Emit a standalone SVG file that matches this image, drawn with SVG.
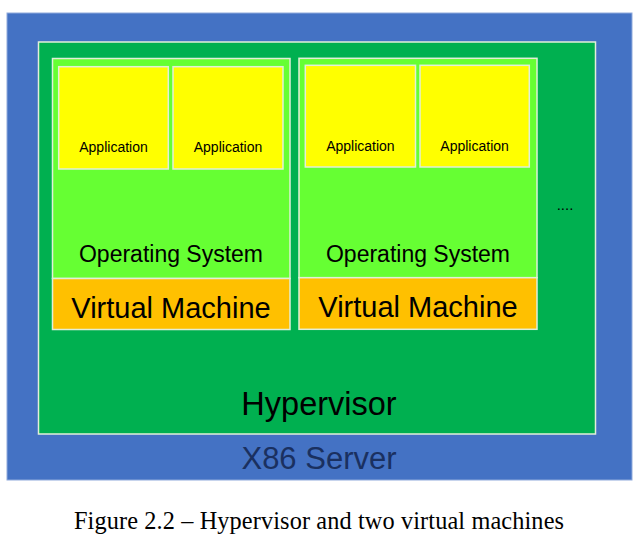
<svg xmlns="http://www.w3.org/2000/svg" width="638" height="536" viewBox="0 0 638 536">
<style>
.lb{stroke:#E2EFD9;stroke-width:1.5}
.app{fill:#FFFF00}
.os{fill:#66FF33}
.vm{fill:#FFC000}
.t{font-family:"Liberation Sans",Arial,sans-serif;fill:#000;text-anchor:middle}
</style>
<rect width="638" height="536" fill="#FFFFFF"/>
<g id="server">
<rect x="7" y="13" width="625" height="467" fill="#4472C4" stroke="#8FAADC" stroke-width="1"/>
<text class="t" x="319" y="469" font-size="31" style="fill:#1A3060">X86 Server</text>
</g>
<g id="hypervisor">
<rect class="lb" x="38.5" y="42" width="557" height="392" fill="#00B050"/>
<text class="t" x="319" y="415" font-size="32.5">Hypervisor</text>
</g>
<g id="vm1">
<rect class="os lb" x="52.5" y="58.5" width="237.5" height="220"/>
<rect class="vm lb" x="52.5" y="278.5" width="237.5" height="51"/>
<text class="t" x="171" y="262" font-size="23">Operating System</text>
<text class="t" x="171" y="317.5" font-size="29">Virtual Machine</text>
</g>
<g id="vm1-app1">
<rect class="app lb" x="58.7" y="66.7" width="109.6" height="102.3"/>
<text class="t" x="113.5" y="151.7" font-size="14">Application</text>
</g>
<g id="vm1-app2">
<rect class="app lb" x="173" y="66.7" width="110" height="102.3"/>
<text class="t" x="228" y="151.7" font-size="14">Application</text>
</g>
<g id="vm2">
<rect class="os lb" x="299" y="58.3" width="238" height="219.4"/>
<rect class="vm lb" x="299" y="277.7" width="238" height="51.6"/>
<text class="t" x="418" y="261.7" font-size="23">Operating System</text>
<text class="t" x="418" y="317.3" font-size="29">Virtual Machine</text>
</g>
<g id="vm2-app1">
<rect class="app lb" x="305.3" y="65.3" width="110.2" height="101.7"/>
<text class="t" x="360.4" y="150.7" font-size="14">Application</text>
</g>
<g id="vm2-app2">
<rect class="app lb" x="420" y="65.3" width="109.3" height="101.7"/>
<text class="t" x="474.6" y="150.7" font-size="14">Application</text>
</g>
<g id="more">
<text class="t" x="565" y="210" font-size="15">....</text>
</g>
<g id="connectors"></g>
<text x="319" y="529" font-family="'Liberation Serif','Times New Roman',serif" font-size="24.3" text-anchor="middle" textLength="490" lengthAdjust="spacing" fill="#000">Figure 2.2 – Hypervisor and two virtual machines</text>
</svg>
